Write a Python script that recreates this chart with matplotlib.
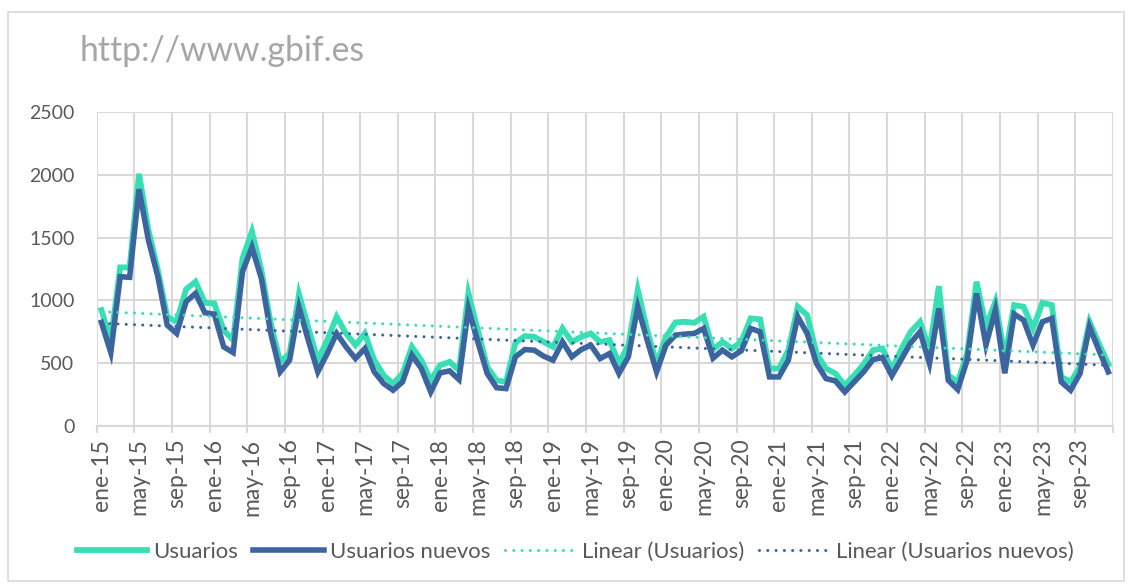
import numpy as np
import matplotlib.pyplot as plt
from matplotlib.patches import Rectangle

# monthly series, ene-15 .. dic-23
usuarios = [
    923, 680, 1263, 1263, 2008, 1560, 1242, 870, 830, 1088, 1149, 981,
    976, 763, 684, 1335, 1548, 1242, 817, 511, 577, 1050, 780, 524,
    684, 870, 737, 644, 737, 524, 404, 338, 418, 630, 524, 364,
    484, 511, 444, 1056, 763, 471, 364, 351, 662, 716, 710, 670,
    630, 777, 670, 710, 737, 670, 684, 497, 644, 1083, 763, 497,
    710, 825, 830, 822, 870, 610, 670, 617, 670, 857, 849, 458,
    458, 604, 950, 883, 577, 458, 418, 325, 404, 492, 604, 617,
    450, 610, 750, 830, 604, 1114, 404, 351, 577, 1149, 790, 990,
    550, 963, 950, 777, 981, 963, 391, 351, 471, 830, 657, 492,
]
usuarios_nuevos = [
    825, 585, 1189, 1184, 1886, 1480, 1190, 803, 737, 990, 1056, 902,
    891, 630, 585, 1229, 1423, 1176, 737, 431, 524, 945, 680, 431,
    577, 737, 630, 537, 617, 431, 338, 285, 351, 564, 458, 271,
    423, 439, 370, 936, 670, 418, 305, 298, 551, 609, 604, 556,
    524, 670, 551, 609, 644, 537, 577, 418, 551, 950, 684, 431,
    644, 724, 732, 737, 777, 540, 604, 551, 599, 777, 750, 391,
    391, 524, 870, 737, 497, 378, 359, 271, 351, 431, 529, 545,
    400, 530, 662, 750, 497, 936, 364, 290, 524, 1056, 644, 923,
    420, 891, 843, 644, 830, 857, 351, 285, 418, 790, 604, 431,
]
meses = ["ene", "feb", "mar", "abr", "may", "jun",
         "jul", "ago", "sep", "oct", "nov", "dic"]
years = list(range(15, 24))
labels = [f"{m}-{y}" for y in years for m in meses]

GREEN = "#38DFB5"
BLUE = "#3C65A0"
GRID = "#D9D9D9"
TEXT = "#595959"

plt.rcParams["font.family"] = ["Lato", "DejaVu Sans"]

x = np.arange(len(usuarios))
fig = plt.figure(figsize=(11.32, 5.86), dpi=100)
ax = fig.add_axes([0.0854, 0.273, 0.8978, 0.5358])

# linear trendlines (Excel style)
p1 = np.polyfit(x, usuarios, 1)
p2 = np.polyfit(x, usuarios_nuevos, 1)

ax.plot(x, usuarios, color=GREEN, lw=4.2, solid_joinstyle="miter", label="Usuarios", zorder=3)
ax.plot(x, usuarios_nuevos, color=BLUE, lw=4.0, solid_joinstyle="miter", label="Usuarios nuevos", zorder=4)
ax.plot(x, np.polyval(p1, x), color=GREEN, lw=2.2, linestyle=(0, (0.01, 2.7)),
        dash_capstyle="round", label="Linear (Usuarios)", zorder=5)
ax.plot(x, np.polyval(p2, x), color=BLUE, lw=2.2, linestyle=(0, (0.01, 2.7)),
        dash_capstyle="round", label="Linear (Usuarios nuevos)", zorder=5)

ax.set_xlim(-0.5, len(x) - 0.5)
ax.set_ylim(0, 2500)
ax.set_yticks(range(0, 2501, 500))

# category axis: labels on every 4th month, gridlines/ticks between categories
ax.set_xticks(x[::4])
ax.set_xticklabels(labels[::4], rotation=90, fontsize=16.5, color=TEXT)
ax.set_xticks(np.arange(0, len(x) + 1, 4) - 0.5, minor=True)

ax.grid(True, which="minor", axis="x", color=GRID, lw=1.5)
ax.grid(True, which="major", axis="y", color=GRID, lw=1.5)
ax.set_axisbelow(True)
for s in ["top", "right", "left"]:
    ax.spines[s].set_visible(False)
ax.spines["bottom"].set_color(GRID)
ax.spines["bottom"].set_linewidth(1.5)
ax.tick_params(axis="x", which="major", length=0, pad=9, labelcolor=TEXT)
ax.tick_params(axis="x", which="minor", colors=GRID, length=5, width=1.5)
ax.tick_params(axis="y", length=0, pad=16, labelsize=14, labelcolor=TEXT)

fig.text(0.0707, 0.913, "http://www.gbif.es", fontsize=24.3,
         color="#A6A6A6", va="center")

fig.legend(loc="center", bbox_to_anchor=(0.508, 0.058), ncol=4, frameon=False,
           fontsize=15.9, labelcolor=TEXT, handlelength=3.2, handletextpad=0.27,
           columnspacing=0.68)

fig.patches.append(Rectangle((0.007, 0.008), 0.986, 0.972, transform=fig.transFigure,
                             fill=False, edgecolor=GRID, lw=1.2))

fig.savefig("out.png", dpi=100)
